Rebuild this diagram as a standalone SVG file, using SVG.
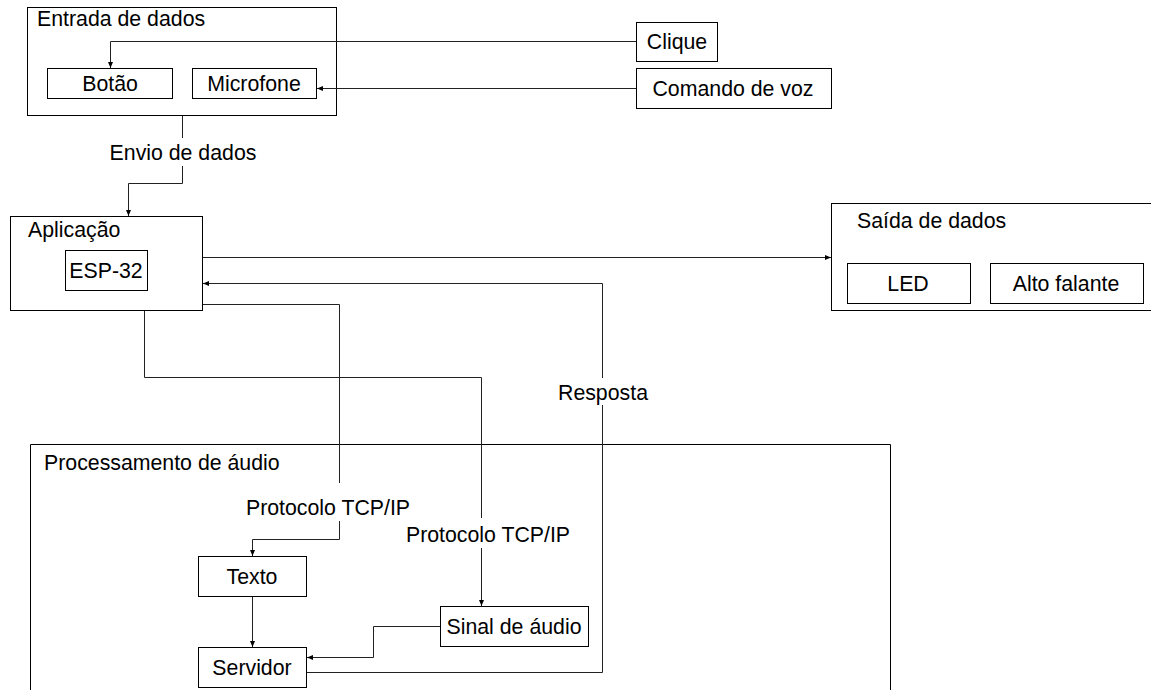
<svg xmlns="http://www.w3.org/2000/svg" width="1151" height="690" viewBox="0 0 1151 690">
<style>
.box{fill:#fff;stroke:#000;stroke-width:1}
.cont{fill:none;stroke:#000;stroke-width:1}
.t{font-family:"Liberation Sans",Arial,sans-serif;font-size:21.3px;fill:#000}
.c{text-anchor:middle}
.ln{fill:none;stroke:#222;stroke-width:1}
</style>
<defs>
<marker id="ah" viewBox="0 0 6 6" refX="6" refY="3" markerWidth="6" markerHeight="6" markerUnits="userSpaceOnUse" orient="auto">
<path d="M0,0.5 L6,3 L0,5.5 Z" fill="#000"/>
</marker>
</defs>
<rect width="1151" height="690" fill="#fff"/>

<g id="entrada">
<rect class="cont" x="27.5" y="7.5" width="309" height="108"/>
<text class="t" x="37" y="26">Entrada de dados</text>
</g>
<g id="botao">
<rect class="box" x="47.5" y="68.5" width="125" height="30"/>
<text class="t c" x="110" y="91">Botão</text>
</g>
<g id="microfone">
<rect class="box" x="192.5" y="68.5" width="124" height="30"/>
<text class="t c" x="254" y="91">Microfone</text>
</g>
<g id="clique">
<rect class="box" x="636.5" y="22.5" width="81" height="39"/>
<text class="t c" x="677" y="49">Clique</text>
</g>
<g id="comando">
<rect class="box" x="636.5" y="68.5" width="195" height="40"/>
<text class="t c" x="733" y="96">Comando de voz</text>
</g>
<g id="aplicacao">
<rect class="cont" x="10.5" y="216.5" width="192" height="94"/>
<text class="t" x="28" y="237">Aplicação</text>
</g>
<g id="esp32">
<rect class="box" x="65.5" y="250.5" width="82" height="40"/>
<text class="t c" x="106" y="278">ESP-32</text>
</g>
<g id="saida">
<rect class="cont" x="831.5" y="203.5" width="330" height="107"/>
<text class="t" x="857" y="228">Saída de dados</text>
</g>
<g id="led">
<rect class="box" x="847.5" y="263.5" width="123" height="40"/>
<text class="t c" x="908" y="291">LED</text>
</g>
<g id="altofalante">
<rect class="box" x="990.5" y="263.5" width="153" height="40"/>
<text class="t c" x="1066" y="291">Alto falante</text>
</g>
<g id="processamento">
<path class="cont" d="M30.5,700 V444.5 H890.5 V700"/>
<text class="t" x="44" y="470">Processamento de áudio</text>
</g>
<g id="texto">
<rect class="box" x="198.5" y="556.5" width="108" height="40"/>
<text class="t c" x="252" y="584">Texto</text>
</g>
<g id="servidor">
<rect class="box" x="198.5" y="647.5" width="108" height="40"/>
<text class="t c" x="252" y="675">Servidor</text>
</g>
<g id="sinal">
<rect class="box" x="440.5" y="606.5" width="148" height="40"/>
<text class="t c" x="514" y="634">Sinal de áudio</text>
</g>

<g id="connectors">
<path class="ln" d="M636,41.5 H110.5 V68" marker-end="url(#ah)"/>
<path class="ln" d="M636,88.5 H317" marker-end="url(#ah)"/>
<path class="ln" d="M182.5,116 V138"/>
<path class="ln" d="M182.5,166 V183.5 H128.5 V216" marker-end="url(#ah)"/>
<text class="t c" x="183" y="160">Envio de dados</text>
<path class="ln" d="M203,257.5 H831" marker-end="url(#ah)"/>
<path class="ln" d="M307,672.5 H602.5 V405"/>
<path class="ln" d="M602.5,378 V283.5 H203" marker-end="url(#ah)"/>
<text class="t c" x="603" y="400">Resposta</text>
<path class="ln" d="M203,304.5 H339.5 V483"/>
<path class="ln" d="M339.5,521 V539.5 H252.5 V556" marker-end="url(#ah)"/>
<text class="t c" x="328" y="515">Protocolo TCP/IP</text>
<path class="ln" d="M144.5,311 V377.5 H481.5 V518"/>
<path class="ln" d="M481.5,548 V606" marker-end="url(#ah)"/>
<text class="t c" x="488" y="542">Protocolo TCP/IP</text>
<path class="ln" d="M252.5,597 V647" marker-end="url(#ah)"/>
<path class="ln" d="M440,626.5 H373.5 V657.5 H307" marker-end="url(#ah)"/>
</g>
</svg>
